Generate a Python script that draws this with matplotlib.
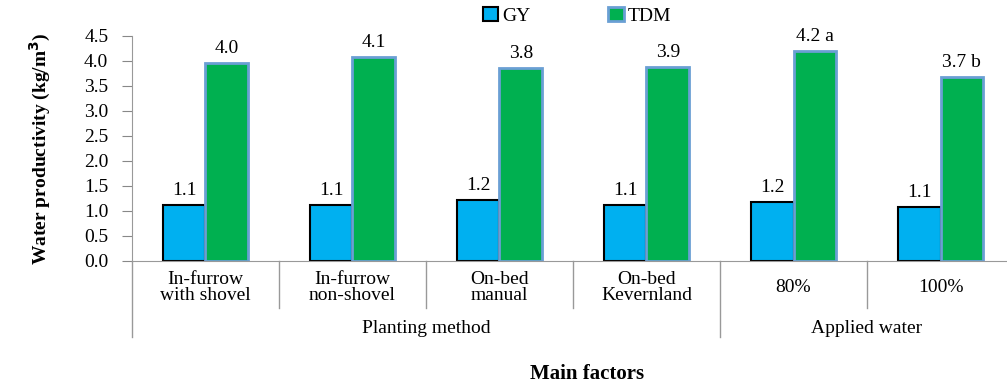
import matplotlib
matplotlib.use('Agg')
import matplotlib.pyplot as plt
import numpy as np

plt.rcParams['font.family'] = ['Liberation Serif', 'DejaVu Serif']

# 数据
categories = ['In-furrow\nwith shovel', 'In-furrow\nnon-shovel', 'On-bed\nmanual',
              'On-bed\nKevernland', '80%', '100%']
groups = ['Planting method', 'Applied water']
group_sizes = [4, 2]
gy = [1.11, 1.12, 1.22, 1.11, 1.18, 1.07]
tdm = [3.96, 4.08, 3.85, 3.87, 4.19, 3.68]
gy_labels = ['1.1', '1.1', '1.2', '1.1', '1.2', '1.1']
tdm_labels = ['4.0', '4.1', '3.8', '3.9', '4.2 a', '3.7 b']

fig = plt.figure(figsize=(10.07, 3.9), dpi=100)
ax = fig.add_axes([0.131, 0.331, 0.876, 0.577])

x = np.arange(len(categories))
w = 0.29
b1 = ax.bar(x - w / 2, gy, w, color='#00B0F0', edgecolor='black', linewidth=1.5, label='GY')
b2 = ax.bar(x + w / 2, tdm, w, color='#00B050', edgecolor='#6A9FD4', linewidth=2, label='TDM')

# 数值标签
for i in range(len(x)):
    ax.text(x[i] - w / 2, gy[i] + 0.12, gy_labels[i], ha='center', va='bottom', fontsize=14)
    ax.text(x[i] + w / 2, tdm[i] + 0.12, tdm_labels[i], ha='center', va='bottom', fontsize=14)

ax.set_xlim(-0.5, len(categories) - 0.5)
ax.set_ylim(0, 4.5)
ticks = np.arange(0, 4.51, 0.5)
ax.set_yticks(ticks)
ax.set_yticklabels(['%.1f' % v for v in ticks], fontsize=14)
ax.set_xticks([])
ax.tick_params(axis='y', length=7, color='#888888', pad=10)

for s in ['top', 'right']:
    ax.spines[s].set_visible(False)
ax.spines['left'].set_color('#999999')
ax.spines['bottom'].set_color('#999999')

ax.set_ylabel('Water productivity (kg/m$^\\mathbf{3}$)', fontsize=14, fontweight='bold', labelpad=22)

# 分类标签与分隔线
tr = ax.get_xaxis_transform()
for i, c in enumerate(categories):
    ax.text(x[i], -0.118, c, transform=tr, ha='center', va='center', fontsize=14, linespacing=0.95)

edges = np.cumsum([0] + group_sizes)
for k in range(len(categories) + 1):
    xx = k - 0.5
    if k in edges:
        ax.plot([xx, xx], [0, -0.338], transform=tr, color='#999999', lw=1, clip_on=False)
    else:
        ax.plot([xx, xx], [0, -0.209], transform=tr, color='#999999', lw=1, clip_on=False)

for g in range(len(groups)):
    mid = (edges[g] + edges[g + 1] - 1) / 2
    ax.text(mid, -0.3, groups[g], transform=tr, ha='center', va='center', fontsize=14)

fig.text(0.583, 0.04, 'Main factors', ha='center', va='center', fontsize=15, fontweight='bold')

leg = fig.legend(handles=[b1, b2], loc='center', bbox_to_anchor=(0.573, 0.96), ncol=2,
                 frameon=False, fontsize=14, handlelength=0.8, handleheight=0.8,
                 handletextpad=0.2, columnspacing=4)

plt.savefig('out.png', dpi=100)
plt.close('all')
